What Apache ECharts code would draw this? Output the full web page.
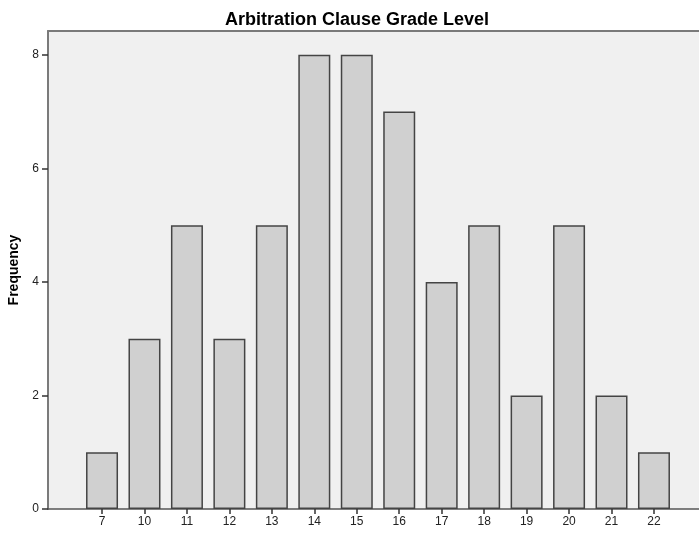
<!DOCTYPE html>
<html><head><meta charset="utf-8">
<script src="https://cdn.jsdelivr.net/npm/echarts@6/dist/echarts.min.js"></script>
<style>html,body{margin:0;padding:0;background:#fff}#c{width:699px;height:533px}</style>
</head><body><div id="c"></div>
<script>
const categories = ['7','10','11','12','13','14','15','16','17','18','19','20','21','22'];
const frequency = [1,3,5,3,5,8,8,7,4,5,2,5,2,1];
const yTicks = [0,2,4,6,8];
const titleText = 'Arbitration Clause Grade Level';
const yName = 'Frequency';

const yMax = 8.42;
const chart = echarts.init(document.getElementById('c'));
chart.setOption({
  animation: false,
  title: { text: titleText, left: 352, top: 6, textAlign: 'center',
    textStyle: { fontFamily: 'Liberation Sans, Arial', fontWeight: 'bold', fontSize: 18, color: '#000' } },
  grid: [
    { left: 48, right: 0, top: 31, bottom: 24, show: true, backgroundColor: '#F0F0F0', borderWidth: 0, containLabel: false, outerBoundsMode: 'none' },
    { left: 80.8, right: 23.8, top: 31, bottom: 24, containLabel: false, outerBoundsMode: 'none' }
  ],
  xAxis: [
    { gridIndex: 0, type: 'value', min: 0, max: 1, axisLine: { show: true, lineStyle: { color: '#555', width: 1.5 } },
      axisTick: { show: false }, axisLabel: { show: false }, splitLine: { show: false } },
    { gridIndex: 0, type: 'value', position: 'top', min: 0, max: 1, axisLine: { show: true, lineStyle: { color: '#7a7a7a', width: 2 } },
      axisTick: { show: false }, axisLabel: { show: false }, splitLine: { show: false } },
    { gridIndex: 1, type: 'category', data: categories, axisLine: { show: false },
      axisTick: { show: true, alignWithLabel: true, length: 5, lineStyle: { color: '#333', width: 1.5 } },
      axisLabel: { color: '#222', fontSize: 12, margin: 7, fontFamily: 'Liberation Sans, Arial' } }
  ],
  yAxis: [
    { gridIndex: 0, type: 'value', min: 0, max: yMax, interval: 2,
      name: yName, nameLocation: 'middle', nameGap: 26,
      nameTextStyle: { fontWeight: 'bold', fontSize: 14, color: '#000', fontFamily: 'Liberation Sans, Arial' },
      axisLine: { show: true, lineStyle: { color: '#7a7a7a', width: 2 } },
      axisTick: { show: true, length: 6, customValues: yTicks, lineStyle: { color: '#333', width: 1.5 } },
      axisLabel: { customValues: yTicks, color: '#222', fontSize: 12, margin: 9, fontFamily: 'Liberation Sans, Arial' },
      splitLine: { show: false } },
    { gridIndex: 1, type: 'value', min: 0, max: yMax, show: false, splitLine: { show: false } }
  ],
  series: [{
    type: 'bar', xAxisIndex: 2, yAxisIndex: 1, data: frequency, barWidth: 32,
    itemStyle: { color: '#D0D0D0', borderColor: '#444', borderWidth: 1.5 }
  }]
});
</script></body></html>
